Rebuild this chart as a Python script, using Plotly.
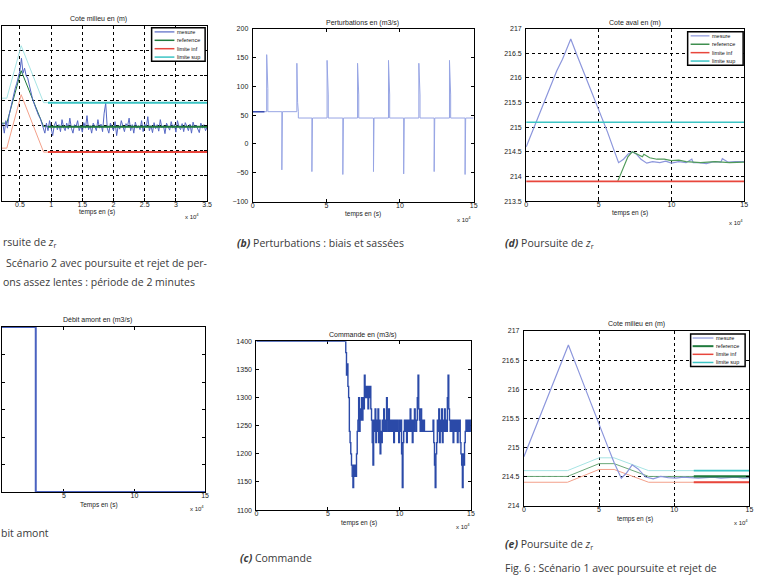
import numpy as np
import plotly.graph_objects as go

W, H = 764, 577

# ---------------- data ----------------
# (a) Cote milieu - scenario 2 (time in 1e4 s)
a_meas_t0, a_meas_dt = 0.225, 0.025
a_meas_v = [
    215.05, 214.85, 215.10, 214.95,
    215.20, 215.35, 215.45, 215.60, 215.75, 215.85, 216.00, 216.10,
    216.35, 216.05, 216.15, 216.00, 215.95, 215.80, 215.65, 215.55, 215.45, 215.35, 215.30, 215.20, 215.15, 215.05, 214.95,
    214.85, 215.05, 214.90, 215.10, 214.95, 214.80, 215.00, 215.08, 214.92, 215.02,
    214.88, 215.12, 214.97, 214.90, 215.05, 214.93, 215.15, 214.95, 214.85, 215.02,
    214.98, 215.10, 214.90, 215.00, 214.87, 215.06, 214.95, 215.20, 214.92, 215.00,
    214.85, 215.05, 214.98, 214.90, 215.12, 214.95, 215.03, 214.88, 215.25, 215.45,
    214.95, 214.85, 215.05, 214.97, 214.90, 215.08, 214.80, 215.00, 214.93, 215.10,
    214.96, 214.88, 215.04, 214.99, 215.15, 214.90, 215.02, 214.85, 215.07, 214.95,
    215.00, 214.92, 215.10, 214.88, 215.03, 214.97, 215.18, 214.90, 215.00, 214.86,
    215.06, 214.94, 215.02, 214.89, 215.12, 214.96, 215.00, 214.84, 215.05, 214.98,
    214.91, 215.08, 214.95, 215.02, 214.87, 215.10, 214.97, 214.92, 215.04, 214.88,
    215.06, 214.99, 214.90, 215.03, 214.85, 215.07, 214.96, 215.01, 214.93, 214.86,
    215.05, 214.95, 215.02, 214.90, 214.97,
]
a_lim_t = [0.213, 0.29, 0.52, 0.88, 0.95, 3.5]
a_ref_v = [215.05, 215.05, 216.10, 214.98, 214.98, 214.98]
a_inf_v = [214.55, 214.55, 215.62, 214.47, 214.47, 214.47]
a_sup_v = [215.55, 215.55, 216.60, 215.46, 215.46, 215.46]

# (b) Perturbations (m3/s)
b_t = [0, 0.8, 0.95, 0.95, 1.03, 1.03,
       1.98, 1.98, 2.02,
       3.0, 3.0, 3.05, 3.1, 3.1,
       4.02, 4.02, 4.06,
       5.05, 5.05, 5.13, 5.13,
       6.12, 6.12, 6.16,
       7.12, 7.12, 7.2, 7.2,
       8.2, 8.2, 8.24,
       9.22, 9.22, 9.3, 9.3,
       10.25, 10.25, 10.29,
       11.28, 11.28, 11.36, 11.36,
       12.32, 12.32, 12.36,
       13.36, 13.36, 13.44, 13.44,
       14.42, 14.42, 14.46,
       15]
b_v = [56, 56, 56, 155, 96, 56,
       56, -45, 56,
       56, 140, 72, 56, 45,
       45, -48, 45,
       45, 145, 85, 45,
       45, -53, 45,
       45, 140, 85, 45,
       45, -48, 45,
       45, 145, 85, 45,
       45, -52, 45,
       45, 140, 85, 45,
       45, -48, 45,
       45, 145, 85, 45,
       45, -53, 45,
       45]

# (d) Cote aval
d_meas_t = [0, 0.5, 1, 1.5, 2, 2.1, 2.5, 3.07, 3.5, 4, 4.5, 5, 5.18, 5.6, 6, 6.36, 6.7, 7.0, 7.3,
            7.6, 7.9, 8.3, 8.7, 9.2, 9.6, 10, 10.5, 11, 11.4, 11.5, 11.9, 12.4, 12.9, 13.4, 13.5,
            13.9, 14.4, 15]
d_meas_v = [214.60, 214.96, 215.31, 215.67, 216.03, 216.14, 216.38, 216.79, 216.46, 216.09,
            215.71, 215.33, 215.20, 214.90, 214.57, 214.28, 214.35, 214.45, 214.50,
            214.45, 214.35, 214.27, 214.30, 214.28, 214.31, 214.27, 214.30, 214.28, 214.35,
            214.28, 214.28, 214.26, 214.30, 214.29, 214.36, 214.29, 214.30, 214.30]
d_ref_t = [6.3, 6.6, 7.0, 7.3, 7.6, 8.0, 8.1, 8.5, 9.0, 9.5, 10, 10.5, 11, 12, 13, 14, 15]
d_ref_v = [213.90, 214.10, 214.40, 214.50, 214.45, 214.40, 214.45, 214.38, 214.35, 214.35,
           214.32, 214.33, 214.30, 214.28, 214.30, 214.28, 214.29]
d_lim_t = [0, 15]
d_inf_v = [213.90, 213.90]
d_sup_v = [215.10, 215.10]

# Debit amont
f_t = [0, 3.01, 3.01, 15]
f_v = [1400, 1400, 1100, 1100]

# (c) Commande (m3/s)
c_head_t = [0, 6.2]
c_head_v = [1400, 1400]
c_t0, c_dt = 6.25, 0.05
c_v = [
    1380, 1340, 1360, 1320, 1300,
    1240, 1220, 1200,
    1180, 1160, 1140, 1180, 1160, 1180, 1160,
    1200, 1240, 1260, 1300, 1240, 1280, 1260,
    1300, 1260, 1300, 1280, 1340,
    1300, 1320, 1300, 1320, 1280, 1320, 1300, 1320, 1280,
    1260, 1220, 1180, 1260, 1240,
    1280, 1220, 1260, 1240, 1280, 1220, 1260, 1200, 1240, 1220, 1260, 1240, 1280, 1240, 1260,
    1240, 1300, 1260, 1240, 1280, 1240,
    1260, 1240, 1260, 1240, 1260, 1220, 1260, 1240, 1260, 1240, 1260, 1240, 1220, 1260, 1240, 1260,
    1200, 1140, 1220, 1240,
    1260, 1240, 1260, 1220, 1260, 1240, 1260, 1240, 1280, 1240, 1260, 1220, 1260, 1240, 1280, 1260, 1240, 1260,
    1300, 1340, 1280,
    1260, 1240, 1280, 1240, 1260, 1240, 1260, 1240, 1240, 1240, 1240,
    1240, 1240, 1240, 1240, 1240, 1240, 1240, 1240, 1260, 1220,
    1180, 1140, 1200,
    1220, 1260, 1240, 1280, 1220, 1260, 1240, 1280, 1220, 1260, 1240, 1280, 1240, 1260, 1240,
    1300, 1340, 1280, 1260,
    1240, 1260, 1240, 1260, 1220, 1260, 1240, 1260, 1240, 1260, 1220, 1260, 1240, 1260,
    1220, 1200, 1180, 1140, 1200, 1180,
    1220, 1240, 1260, 1240, 1260, 1240, 1260, 1240, 1260, 1240,
]

# (e) Cote milieu - scenario 1
e_meas_t = [0, 0.5, 1, 1.5, 2, 2.5, 2.96, 3.5, 4, 4.5, 4.94, 5.2, 5.6, 6.0, 6.48, 6.8, 7.2, 7.6,
            8.1, 8.6, 9.1, 9.6, 10.1, 10.6, 11.1, 11.6, 12.1, 12.6, 13.1, 13.6, 14.1, 14.6, 15]
e_meas_v = [214.84, 215.16, 215.49, 215.81, 216.14, 216.46, 216.76, 216.40, 216.06, 215.73,
            215.43, 215.27, 215.00, 214.74, 214.47, 214.55, 214.70, 214.63, 214.49, 214.46,
            214.50, 214.48, 214.47, 214.49, 214.48, 214.47, 214.48, 214.49, 214.47, 214.48,
            214.49, 214.47, 214.48]
e_lim_t = [0, 2.9, 5.0, 6.0, 8.3, 11.3, 15]
e_ref_v = [214.50, 214.50, 214.72, 214.72, 214.50, 214.50, 214.50]
e_sup_v = [214.60, 214.60, 214.82, 214.82, 214.60, 214.60, 214.60]
e_inf_v = [214.40, 214.40, 214.62, 214.62, 214.40, 214.40, 214.40]

legend_names = ["mesure", "reference", "limite inf", "limite sup"]

# ---------------- colours ----------------
C_MEAS = "#5567c4"
C_MEAS_L = "#8c96dc"
C_REF = "#1f7a3c"
C_INF = "#e8463c"
C_INF_L = "#f3a08a"
C_SUP = "#3cc4c4"
C_SUP_L = "#a6e4e4"
C_PERT = "#97a5e4"
C_CMD = "#2b4aa8"

FONT = "Liberation Sans, Arial, sans-serif"

fig = go.Figure()
layout = dict(width=W, height=H, margin=dict(l=0, r=0, t=0, b=0),
              paper_bgcolor="white", plot_bgcolor="white", showlegend=False,
              font=dict(family=FONT, size=7, color="#222"))


def ax_name(n, kind):
    return f"{kind}axis" if n == 1 else f"{kind}axis{n}"


def ref_name(n, kind):
    return kind if n == 1 else f"{kind}{n}"


def set_axes(n, px0, px1, py0, py1, xr, yr, xtv, ytv, grid, yshow=True, layer="above traces"):
    common = dict(showline=True, linecolor="black", linewidth=1, mirror="ticks",
                  ticks="inside", ticklen=3, tickcolor="black", tickwidth=1, zeroline=False,
                  tickfont=dict(family=FONT, size=7, color="#222"),
                  showgrid=grid, gridcolor="black", griddash="dot", gridwidth=0.7,
                  layer=layer, fixedrange=True)
    layout[ax_name(n, "x")] = dict(common, domain=[px0 / W, px1 / W], range=xr, tickvals=xtv,
                                   anchor=ref_name(n, "y"), ticklabelstandoff=-3)
    layout[ax_name(n, "y")] = dict(common, domain=[1 - py1 / H, 1 - py0 / H], range=yr, tickvals=ytv,
                                   anchor=ref_name(n, "x"), showticklabels=yshow, ticklabelstandoff=2)


def line(n, x, y, color, width=1, shape="linear"):
    fig.add_trace(go.Scatter(x=x, y=y, mode="lines", line=dict(color=color, width=width, shape=shape),
                             xaxis=ref_name(n, "x"), yaxis=ref_name(n, "y"),
                             showlegend=False, hoverinfo="skip"))


# panel 1: (a) cote milieu scenario 2
set_axes(1, 0, 207, 22, 199, [0.213, 3.5], [213.5, 217],
         [0.5, 1, 1.5, 2, 2.5, 3, 3.5], list(np.arange(213.5, 217.01, 0.5)), True, yshow=False)
a_meas_t = [round(a_meas_t0 + a_meas_dt * i, 4) for i in range(len(a_meas_v))]
line(1, a_lim_t, a_sup_v, C_SUP_L)
line(1, a_lim_t, a_inf_v, C_INF_L)
line(1, a_lim_t, a_ref_v, C_REF)
line(1, a_meas_t, a_meas_v, C_MEAS, 1)
line(1, a_lim_t[4:], a_ref_v[4:], C_REF, 2)
line(1, a_lim_t[4:], a_inf_v[4:], C_INF, 2)
line(1, a_lim_t[4:], a_sup_v[4:], C_SUP, 2)

# panel 2: (b) perturbations
set_axes(2, 253, 476, 25, 200, [0, 15], [-100, 200], [0, 5, 10, 15],
         [-100, -50, 0, 50, 100, 150, 200], False)
line(2, b_t, b_v, C_PERT, 1)
line(2, b_t[:2], b_v[:2], "#3a4cb0", 1.5)

# panel 3: (d) cote aval
set_axes(3, 529, 749, 25, 199.5, [0, 15], [213.5, 217], [0, 5, 10, 15],
         list(np.arange(213.5, 217.01, 0.5)), True)
line(3, d_meas_t, d_meas_v, C_MEAS_L, 1.2)
line(3, d_ref_t, d_ref_v, "#4f9a5a", 1.2)
line(3, d_lim_t, d_inf_v, C_INF, 1.6)
line(3, d_lim_t, d_sup_v, C_SUP, 1.6)

# panel 4: debit amont
set_axes(4, 0, 205, 327, 494, [0.62, 15], [1100, 1400], [5, 10, 15],
         [1100, 1150, 1200, 1250, 1300, 1350, 1400], False, yshow=False, layer="below traces")
line(4, f_t, f_v, "#4a62c0", 2)

# panel 5: (c) commande
set_axes(5, 256.7, 473.3, 341.5, 512.3, [0, 15], [1100, 1400], [0, 5, 10, 15],
         [1100, 1150, 1200, 1250, 1300, 1350, 1400], False, layer="below traces")
c_t = [round(c_t0 + c_dt * i, 4) for i in range(len(c_v))]
line(5, c_head_t + c_t, c_head_v + c_v, C_CMD, 1.4, shape="hv")

# panel 6: (e) cote milieu scenario 1
set_axes(6, 526.7, 754.3, 331, 507.7, [0, 15], [214, 217], [0, 5, 10, 15],
         list(np.arange(214, 217.01, 0.5)), True)
line(6, e_lim_t, e_sup_v, C_SUP_L)
line(6, e_lim_t, e_ref_v, "#6aa878")
line(6, e_lim_t, e_inf_v, C_INF_L)
line(6, e_meas_t, e_meas_v, C_MEAS_L, 1.2)
line(6, e_lim_t[5:], e_ref_v[5:], C_REF, 2.2)
line(6, e_lim_t[5:], e_inf_v[5:], C_INF, 1.8)
line(6, e_lim_t[5:], e_sup_v[5:], C_SUP, 1.8)

ann = []
shapes = []


def text(px, py, s, size=7, anchor="center", font=FONT, color="#222"):
    ann.append(dict(x=px / W, y=1 - py / H, xref="paper", yref="paper", text=s, showarrow=False,
                    xanchor=anchor, yanchor="middle", font=dict(family=font, size=size, color=color)))


def legend_box(x0, x1, y0, y1, lx0, lx1, colors, widths):
    shapes.append(dict(type="rect", xref="paper", yref="paper", x0=x0 / W, x1=x1 / W,
                       y0=1 - y1 / H, y1=1 - y0 / H, fillcolor="white",
                       line=dict(color="black", width=1.5), layer="above"))
    step = (y1 - y0) / len(legend_names)
    for i, (nm, c, w) in enumerate(zip(legend_names, colors, widths)):
        cy = y0 + step * (i + 0.5)
        shapes.append(dict(type="line", xref="paper", yref="paper", x0=lx0 / W, x1=lx1 / W,
                           y0=1 - cy / H, y1=1 - cy / H, line=dict(color=c, width=w), layer="above"))
        ann.append(dict(x=(lx1 + 1) / W, y=1 - cy / H, xref="paper", yref="paper", text=nm,
                        showarrow=False, xanchor="left", yanchor="middle",
                        font=dict(family=FONT, size=5.5, color="#111")))


legend_box(151, 205, 24, 58, 154, 174, [C_MEAS, C_REF, C_INF, C_SUP], [1.2, 1.5, 1.5, 1.5])
legend_box(692, 748, 28, 62, 695, 714, [C_MEAS_L, "#3f8f4f", C_INF, C_SUP], [1.2, 1.5, 1.5, 1.5])
legend_box(695, 750, 334, 367, 697, 718, [C_MEAS_L, C_REF, C_INF, C_SUP], [1.2, 2, 1.5, 1.5])

# chart titles
text(97, 15, "Cote milieu en (m)")
text(364, 19, "Perturbations en (m3/s)")
text(639, 19, "Cote aval en (m)")
text(96, 320, "Débit amont en (m3/s)")
text(364, 335, "Commande en (m3/s)")
text(640, 324, "Cote milieu en (m)")
# x labels
for cx, cy, mx, my, lab in [(96, 211, 192, 215, "temps en (s)"),
                            (364, 213, 466, 218, "temps en (s)"),
                            (634, 212, 741, 221, "temps en (s)"),
                            (98, 507, 197, 510, "Temps en (s)"),
                            (360, 525, 465, 528, "temps en (s)"),
                            (639, 521, 746, 524, "temps en (s)")]:
    text(cx, cy, lab, 6.5)
    text(mx, my, "x 10<sup>4</sup>", 6)

# captions
CAP = "Open Sans, Noto Sans, sans-serif"
CC = "#3a3a3a"
ZR = "<i>z</i><sub>r</sub>"
text(-1, 241, "rsuite de " + ZR, 10.5, "left", CAP, CC)
text(2, 262, "Scénario 2 avec poursuite et rejet de per-", 10.5, "left", CAP, CC)
text(-1, 281, "ons assez lentes : période de 2 minutes", 10.5, "left", CAP, CC)
text(235, 242, "<b><i>(b)</i></b> Perturbations : biais et sassées", 10.5, "left", CAP, CC)
text(506, 242, "<b><i>(d)</i></b> Poursuite de " + ZR, 10.5, "left", CAP, CC)
text(-3, 536, "bit amont", 10.5, "left", CAP, CC)
text(238, 561, "<b><i>(c)</i></b> Commande", 10.5, "left", CAP, CC)
text(506, 547, "<b><i>(e)</i></b> Poursuite de " + ZR, 10.5, "left", CAP, CC)
text(506, 571, "Fig. 6 : Scénario 1 avec poursuite et rejet de", 10.5, "left", CAP, CC)

layout["annotations"] = ann
layout["shapes"] = shapes
fig.update_layout(**layout)
fig.write_html("out.html")
